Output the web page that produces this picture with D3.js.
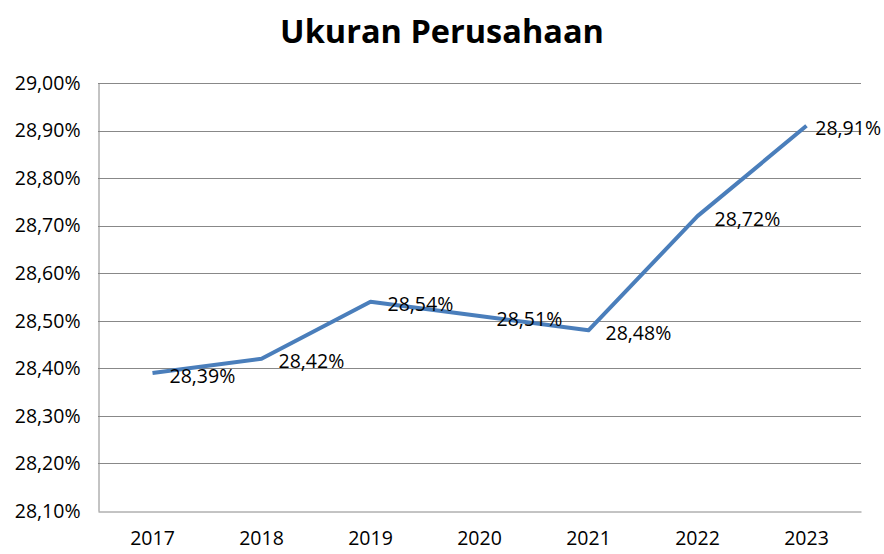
<!DOCTYPE html>
<html><head><meta charset="utf-8">
<script src="https://cdn.jsdelivr.net/npm/d3@7"></script>
<style>body{margin:0;background:#fff}</style>
</head><body>
<svg id="c" width="884" height="554"></svg>
<script>
const title = "Ukuran Perusahaan";
const years = ["2017","2018","2019","2020","2021","2022","2023"];
const values = [28.39, 28.42, 28.54, 28.51, 28.48, 28.72, 28.91];
const yTicks = [28.10,28.20,28.30,28.40,28.50,28.60,28.70,28.80,28.90,29.00];

const W = 884, H = 554;
const m = {left:98, right:23, top:83, bottom:43};
const svg = d3.select("#c");
const font = "'Open Sans', sans-serif";
const fmt = v => v.toFixed(2).replace(".", ",") + "%";
const fs = 19.5;

const x = d3.scaleBand().domain(years).range([m.left, W - m.right]);
const y = d3.scaleLinear().domain([28.10, 29.00]).range([H - m.bottom, m.top]);

svg.append("text").attr("x", 442).attr("y", 43).attr("text-anchor","middle")
  .attr("font-family", font).attr("font-weight","bold").attr("font-size", 32.5)
  .attr("fill","#000").text(title);

// gridlines
svg.append("g").selectAll("line").data(yTicks.slice(1)).join("line")
  .attr("x1", m.left).attr("x2", W - m.right)
  .attr("y1", d => Math.round(y(d)) + 0.5).attr("y2", d => Math.round(y(d)) + 0.5)
  .attr("stroke", "#888").attr("stroke-width", 1);

// y axis
const ya = svg.append("g").attr("transform", `translate(${m.left + 0.5},0)`)
  .call(d3.axisLeft(y).tickValues(yTicks).tickFormat(fmt).tickSize(0).tickPadding(18));
ya.select(".domain").attr("stroke","#888");
ya.selectAll("text").attr("font-family", font).attr("font-size", fs).attr("fill","#000");

// x axis
const xa = svg.append("g").attr("transform", `translate(0,${Math.round(y(28.10)) + 0.5})`)
  .call(d3.axisBottom(x).tickSize(0).tickPadding(20));
xa.select(".domain").attr("stroke","#888");
xa.selectAll("text").attr("font-family", font).attr("font-size", fs).attr("fill","#000");

const pts = years.map((d,i) => [x(d) + x.bandwidth()/2, y(values[i])]);
svg.append("path").attr("d", d3.line()(pts)).attr("fill","none")
  .attr("stroke","#4a7ebb").attr("stroke-width", 4).attr("stroke-linejoin","round");

const lab = svg.append("g").selectAll("text").data(values).join("text")
  .attr("font-family", font).attr("font-size", fs).attr("fill","#000")
  .attr("dominant-baseline","central")
  .attr("y", (d,i) => pts[i][1] + 2)
  .text(fmt);
lab.each(function(d,i){
  const w = this.getBBox().width;
  let lx = pts[i][0] + 17;
  if (lx + w > W - 3) lx = W - 3 - w;
  d3.select(this).attr("x", lx);
});
</script>
</body></html>
